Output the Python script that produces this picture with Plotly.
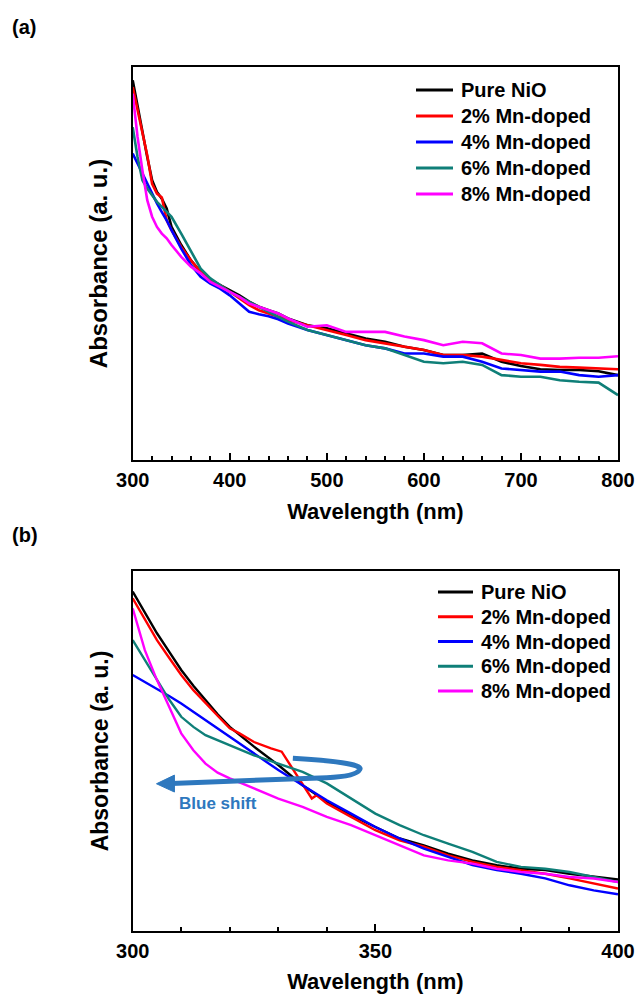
import plotly.graph_objects as go

# ---------------- data ----------------
series_names = ["Pure NiO", "2% Mn-doped", "4% Mn-doped", "6% Mn-doped", "8% Mn-doped"]
series_colors = ["#000000", "#ff0000", "#0000ff", "#0f7f78", "#ff00ff"]

# (a) full UV-vis range, 300-800 nm (absorbance, arbitrary units)
wl_a = [300, 305, 310, 315, 320, 325, 330, 335, 340, 350, 360, 370, 380, 390, 400,
        410, 420, 430, 440, 450, 460, 480, 500, 520, 540, 560, 580, 600, 620, 640,
        660, 680, 700, 720, 740, 760, 780, 800]
abs_a_nio = [0.966, 0.898, 0.835, 0.771, 0.712, 0.682, 0.665, 0.640, 0.593, 0.547, 0.508,
             0.479, 0.458, 0.445, 0.432, 0.419, 0.403, 0.390, 0.381, 0.373, 0.360, 0.343,
             0.335, 0.322, 0.309, 0.301, 0.288, 0.280, 0.267, 0.267, 0.271, 0.250, 0.239,
             0.231, 0.229, 0.229, 0.226, 0.216]
abs_a_mn2 = [0.949, 0.890, 0.835, 0.775, 0.703, 0.678, 0.668, 0.610, 0.585, 0.542, 0.508,
             0.479, 0.458, 0.445, 0.428, 0.411, 0.394, 0.381, 0.373, 0.364, 0.356, 0.343,
             0.331, 0.318, 0.305, 0.297, 0.288, 0.280, 0.267, 0.267, 0.263, 0.254, 0.246,
             0.242, 0.237, 0.235, 0.233, 0.231]
abs_a_mn4 = [0.780, 0.754, 0.729, 0.703, 0.678, 0.653, 0.631, 0.610, 0.585, 0.538, 0.496,
             0.466, 0.449, 0.436, 0.419, 0.398, 0.377, 0.371, 0.366, 0.358, 0.347, 0.331,
             0.318, 0.305, 0.292, 0.284, 0.271, 0.271, 0.263, 0.263, 0.250, 0.233, 0.229,
             0.225, 0.225, 0.216, 0.212, 0.216]
abs_a_mn6 = [0.847, 0.771, 0.712, 0.691, 0.674, 0.657, 0.644, 0.631, 0.619, 0.576, 0.530,
             0.487, 0.462, 0.445, 0.428, 0.415, 0.403, 0.390, 0.377, 0.364, 0.352, 0.331,
             0.318, 0.305, 0.292, 0.284, 0.267, 0.250, 0.246, 0.250, 0.242, 0.216, 0.212,
             0.212, 0.203, 0.199, 0.197, 0.165]
abs_a_mn8 = [0.932, 0.822, 0.737, 0.661, 0.619, 0.593, 0.576, 0.564, 0.547, 0.517, 0.492,
             0.475, 0.453, 0.441, 0.428, 0.415, 0.398, 0.390, 0.381, 0.373, 0.360, 0.339,
             0.343, 0.326, 0.326, 0.326, 0.314, 0.305, 0.292, 0.301, 0.297, 0.271, 0.267,
             0.258, 0.258, 0.260, 0.260, 0.264]

# (b) absorption edge region, 300-400 nm
wl_b = [300, 302.5, 305, 307.5, 310, 312.5, 315, 317.5, 320, 325, 330, 335, 340, 345,
        350, 355, 360, 365, 370, 375, 380, 385, 390, 395, 400]
abs_b_nio = [0.943, 0.884, 0.827, 0.776, 0.725, 0.681, 0.641, 0.602, 0.567, 0.512, 0.461,
             0.405, 0.359, 0.322, 0.289, 0.257, 0.238, 0.215, 0.196, 0.183, 0.173, 0.169,
             0.159, 0.152, 0.143]
wl_b_mn2 = [300, 302.5, 305, 307.5, 310, 312.5, 315, 317.5, 320, 322, 325, 328.5, 330.7,
            331.8, 336.9, 337.9, 340, 345, 350, 355, 360, 365, 370, 375, 380, 385, 390,
            395, 400]
abs_b_mn2 = [0.924, 0.866, 0.808, 0.759, 0.711, 0.669, 0.632, 0.598, 0.563, 0.549, 0.525,
             0.507, 0.498, 0.475, 0.368, 0.377, 0.354, 0.317, 0.280, 0.252, 0.234, 0.210,
             0.192, 0.178, 0.169, 0.159, 0.146, 0.132, 0.118]
abs_b_mn4 = [0.711, 0.692, 0.674, 0.653, 0.632, 0.609, 0.586, 0.563, 0.539, 0.493, 0.447,
             0.405, 0.363, 0.326, 0.289, 0.257, 0.229, 0.206, 0.183, 0.169, 0.159, 0.146,
             0.127, 0.113, 0.102]
abs_b_mn6 = [0.808, 0.753, 0.697, 0.643, 0.595, 0.567, 0.544, 0.530, 0.516, 0.488, 0.465,
             0.442, 0.410, 0.368, 0.326, 0.294, 0.266, 0.243, 0.220, 0.192, 0.178, 0.173,
             0.164, 0.150, 0.136]
abs_b_mn8 = [0.896, 0.780, 0.697, 0.623, 0.549, 0.502, 0.465, 0.440, 0.424, 0.396, 0.368,
             0.345, 0.317, 0.294, 0.266, 0.238, 0.210, 0.196, 0.187, 0.173, 0.164, 0.159,
             0.150, 0.146, 0.136]

ticks_a = [300, 400, 500, 600, 700, 800]
ticks_b = [300, 350, 400]

# ---------------- figure ----------------
FONT = "Liberation Sans, Arial, Helvetica, sans-serif"
W, H = 636, 994

fig = go.Figure()

panel_a = [(wl_a, abs_a_nio), (wl_a, abs_a_mn2), (wl_a, abs_a_mn4),
           (wl_a, abs_a_mn6), (wl_a, abs_a_mn8)]
panel_b = [(wl_b, abs_b_nio), (wl_b_mn2, abs_b_mn2), (wl_b, abs_b_mn4),
           (wl_b, abs_b_mn6), (wl_b, abs_b_mn8)]

for (x, y), name, color in zip(panel_a, series_names, series_colors):
    fig.add_trace(go.Scatter(x=x, y=y, mode="lines", name=name, showlegend=False,
                             line=dict(color=color, width=2.6),
                             xaxis="x", yaxis="y"))
for (x, y), name, color in zip(panel_b, series_names, series_colors):
    fig.add_trace(go.Scatter(x=x, y=y, mode="lines", name=name, showlegend=False,
                             line=dict(color=color, width=2.4),
                             xaxis="x2", yaxis="y2"))


def px_x(p):
    return p / W


def px_y(p):
    return 1 - p / H


x_dom = [px_x(132.7), px_x(618)]

common_x = dict(
    showline=True, linewidth=2, linecolor="black", mirror=True,
    showgrid=False, zeroline=False, automargin=False,
    ticks="inside", ticklen=7, tickwidth=2, tickcolor="black",
    tickfont=dict(family=FONT, size=20, color="black", weight="bold"),
    ticklabelstandoff=1,
    title=dict(text="Wavelength (nm)",
               font=dict(family=FONT, size=22, color="black", weight="bold"),
               standoff=14),
)
common_y = dict(
    showline=True, linewidth=2, linecolor="black", mirror=True, automargin=False,
    showgrid=False, zeroline=False, showticklabels=False, ticks="",
    range=[0, 1],
)

fig.update_layout(
    width=W, height=H,
    margin=dict(l=0, r=0, t=0, b=0),
    paper_bgcolor="white", plot_bgcolor="white",
    showlegend=False,
    xaxis=dict(common_x, domain=x_dom, range=[300, 800], tickvals=ticks_a,
               minor=dict(dtick=20, ticks="inside", ticklen=4, tickwidth=2,
                          tickcolor="black", showgrid=False),
               anchor="y"),
    yaxis=dict(common_y, domain=[px_y(460), px_y(67)], anchor="x",
               title=dict(text="Absorbance (a. u.)",
                          font=dict(family=FONT, size=24, color="black", weight="bold"),
                          standoff=16)),
    xaxis2=dict(common_x, domain=x_dom, range=[300, 400], tickvals=ticks_b,
                minor=dict(dtick=10, ticks="inside", ticklen=4, tickwidth=2,
                           tickcolor="black", showgrid=False),
                anchor="y2"),
    yaxis2=dict(common_y, domain=[px_y(931), px_y(571)], anchor="x2",
                title=dict(text="Absorbance (a. u.)",
                           font=dict(family=FONT, size=23, color="black", weight="bold"),
                           standoff=16)),
)

# legend blocks: short line sample followed by the series name
legend_blocks = [
    # (line start px, line end px, text start px, first row y px, row step px)
    (416, 453, 459, 90, 26.0),
    (438, 473, 479, 592, 24.75),
]
for x0, x1, xt, y0, step in legend_blocks:
    for i, (name, color) in enumerate(zip(series_names, series_colors)):
        yy = px_y(y0 + i * step)
        fig.add_shape(type="line", xref="paper", yref="paper",
                      x0=px_x(x0), x1=px_x(x1), y0=yy, y1=yy,
                      line=dict(color=color, width=3))
        fig.add_annotation(text=name, xref="paper", yref="paper",
                           x=px_x(xt), y=yy, xanchor="left", yanchor="middle",
                           showarrow=False,
                           font=dict(family=FONT, size=20, color="black", weight="bold"))

# panel labels
for label, yc in (("(a)", 27), ("(b)", 535)):
    fig.add_annotation(text=label, xref="paper", yref="paper",
                       x=px_x(10), y=px_y(yc), xanchor="left", yanchor="middle",
                       showarrow=False,
                       font=dict(family=FONT, size=20, color="black", weight="bold"))

# "Blue shift" hook arrow in panel (b)
ARROW = "#2e78be"
fig.add_shape(type="path", xref="x2", yref="y2",
              path="M 333.0,0.480 C 341.0,0.474 347.5,0.463 346.8,0.449 "
                   "C 346.3,0.436 344.0,0.428 340.0,0.426 L 308.0,0.410",
              line=dict(color=ARROW, width=5), fillcolor="rgba(0,0,0,0)")
fig.add_shape(type="path", xref="x2", yref="y2",
              path="M 304.9,0.409 L 308.6,0.433 L 308.6,0.386 Z",
              line=dict(color=ARROW, width=1), fillcolor=ARROW)
fig.add_annotation(text="Blue shift", xref="x2", yref="y2", x=317.6, y=0.353,
                   showarrow=False,
                   font=dict(family=FONT, size=17, color=ARROW, weight="bold"))

fig.write_html("out.html")
